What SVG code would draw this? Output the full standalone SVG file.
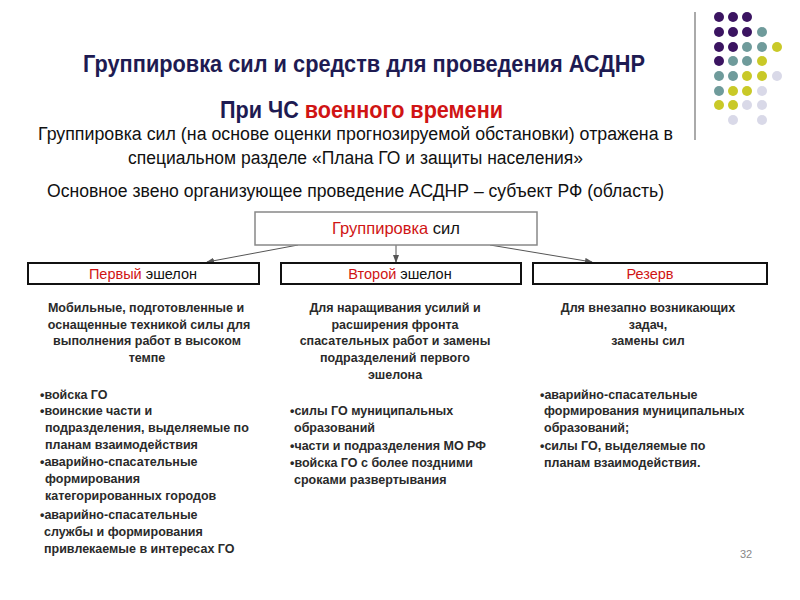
<svg xmlns="http://www.w3.org/2000/svg" width="800" height="600" viewBox="0 0 800 600">
<style>
.t{font-family:"Liberation Sans",Arial,sans-serif}
.ttl{font-size:23.5px;font-weight:bold;fill:#1e1b52}
.red{fill:#d01414}
.sub{font-size:18px;fill:#111}
.hdr{font-size:14.5px;fill:#111;text-anchor:middle}
.box{fill:#fff;stroke:#888;stroke-width:1.5}
.hbox{fill:#fff;stroke:#111;stroke-width:2}
.body{font-size:12.5px;font-weight:bold;fill:#2a2a2a}
.c{text-anchor:middle}
.pu{fill:#3b1461}.te{fill:#6f9b9b}.ye{fill:#c9c928}.la{fill:#d9d9e8}
.conn line{stroke:#555;stroke-width:1;marker-end:url(#ah)}
</style>
<defs>
<marker id="ah" markerWidth="8" markerHeight="6" refX="7" refY="3" orient="auto" markerUnits="userSpaceOnUse">
<path d="M0,0 L8,3 L0,6 z" fill="#555"/>
</marker>
</defs>
<rect width="800" height="600" fill="#fff"/>
<g id="decor">
<line x1="695" y1="12" x2="695" y2="140" stroke="#aaa" stroke-width="2"/>
<circle class="pu" cx="719" cy="17" r="5"/><circle class="pu" cx="733" cy="17" r="5"/><circle class="pu" cx="747" cy="17" r="5"/>
<circle class="pu" cx="719" cy="32" r="5"/><circle class="pu" cx="733" cy="32" r="5"/><circle class="pu" cx="747" cy="32" r="5"/><circle class="te" cx="762" cy="32" r="5"/>
<circle class="pu" cx="719" cy="47" r="5"/><circle class="pu" cx="733" cy="47" r="5"/><circle class="te" cx="747" cy="47" r="5"/><circle class="te" cx="762" cy="47" r="5"/><circle class="ye" cx="777" cy="47" r="5"/>
<circle class="pu" cx="719" cy="61" r="5"/><circle class="te" cx="733" cy="61" r="5"/><circle class="te" cx="747" cy="61" r="5"/><circle class="ye" cx="762" cy="61" r="5"/>
<circle class="te" cx="719" cy="76" r="5"/><circle class="te" cx="733" cy="76" r="5"/><circle class="ye" cx="747" cy="76" r="5"/><circle class="ye" cx="762" cy="76" r="5"/><circle class="la" cx="777" cy="76" r="5"/>
<circle class="te" cx="719" cy="91" r="5"/><circle class="ye" cx="733" cy="91" r="5"/><circle class="ye" cx="747" cy="91" r="5"/><circle class="la" cx="762" cy="91" r="5"/>
<circle class="ye" cx="719" cy="105" r="5"/><circle class="ye" cx="733" cy="105" r="5"/><circle class="la" cx="747" cy="105" r="5"/><circle class="la" cx="762" cy="105" r="5"/>
<circle class="la" cx="733" cy="120" r="5"/><circle class="la" cx="762" cy="120" r="5"/>
</g>
<g id="heading">
<text class="t ttl" x="83" y="72" textLength="562" lengthAdjust="spacingAndGlyphs">Группировка сил и средств для проведения АСДНР</text>
<text class="t ttl" x="220" y="118" textLength="283" lengthAdjust="spacingAndGlyphs">При ЧС <tspan class="red">военного времени</tspan></text>
<text class="t sub" x="38" y="140" textLength="635" lengthAdjust="spacingAndGlyphs">Группировка сил (на основе оценки прогнозируемой обстановки) отражена в</text>
<text class="t sub" x="128" y="164" textLength="455" lengthAdjust="spacingAndGlyphs">специальном разделе «Плана ГО и защиты населения»</text>
<text class="t sub" x="47" y="197" textLength="617" lengthAdjust="spacingAndGlyphs">Основное звено организующее проведение АСДНР – субъект РФ (область)</text>
</g>
<g class="conn" id="connectors">
<line x1="298" y1="245" x2="207" y2="262"/>
<line x1="396" y1="245" x2="396" y2="262"/>
<line x1="490" y1="245" x2="592" y2="262"/>
</g>
<g id="root">
<rect class="box" x="255" y="212" width="282" height="33"/>
<text class="t" x="396" y="234" font-size="16.5" text-anchor="middle" fill="#111"><tspan class="red">Группировка</tspan> сил</text>
</g>
<g id="first">
<rect class="hbox" x="28" y="263" width="231" height="21"/>
<text class="t hdr" x="143" y="279"><tspan class="red">Первый</tspan> эшелон</text>
<text class="t body c"><tspan x="146" y="312">Мобильные, подготовленные и</tspan><tspan x="149" y="329">оснащенные техникой силы для</tspan><tspan x="147" y="345">выполнения работ в высоком</tspan><tspan x="147" y="362">темпе</tspan></text>
<text class="t body"><tspan x="40" y="399">•войска ГО</tspan><tspan x="40" y="415">•воинские части и</tspan><tspan x="45" y="432">подразделения, выделяемые по</tspan><tspan x="45" y="449">планам взаимодействия</tspan><tspan x="40" y="466">•аварийно-спасательные</tspan><tspan x="45" y="483">формирования</tspan><tspan x="45" y="500">категорированных городов</tspan><tspan x="40" y="519">•аварийно-спасательные</tspan><tspan x="44" y="536">службы и формирования</tspan><tspan x="44" y="553">привлекаемые в интересах ГО</tspan></text>
</g>
<g id="second">
<rect class="hbox" x="281" y="263" width="240" height="21"/>
<text class="t hdr" x="400" y="279"><tspan class="red">Второй</tspan> эшелон</text>
<text class="t body c"><tspan x="395" y="312">Для наращивания усилий и</tspan><tspan x="395" y="329">расширения фронта</tspan><tspan x="395" y="345">спасательных работ и замены</tspan><tspan x="395" y="362">подразделений первого</tspan><tspan x="395" y="379">эшелона</tspan></text>
<text class="t body"><tspan x="290" y="415">•силы ГО муниципальных</tspan><tspan x="294" y="432">образований</tspan><tspan x="290" y="450">•части и подразделения МО РФ</tspan><tspan x="290" y="467">•войска ГО с более поздними</tspan><tspan x="294" y="484">сроками развертывания</tspan></text>
</g>
<g id="reserve">
<rect class="hbox" x="533" y="263" width="234" height="21"/>
<text class="t hdr" x="650" y="279"><tspan class="red">Резерв</tspan></text>
<text class="t body c"><tspan x="648" y="312">Для внезапно возникающих</tspan><tspan x="648" y="329">задач,</tspan><tspan x="648" y="345">замены сил</tspan></text>
<text class="t body"><tspan x="540" y="399">•аварийно-спасательные</tspan><tspan x="544" y="415">формирования муниципальных</tspan><tspan x="544" y="432">образований;</tspan><tspan x="540" y="450">•силы ГО, выделяемые по</tspan><tspan x="544" y="467">планам взаимодействия.</tspan></text>
</g>
<text class="t" x="740" y="558" font-size="11" fill="#888">32</text>
</svg>
